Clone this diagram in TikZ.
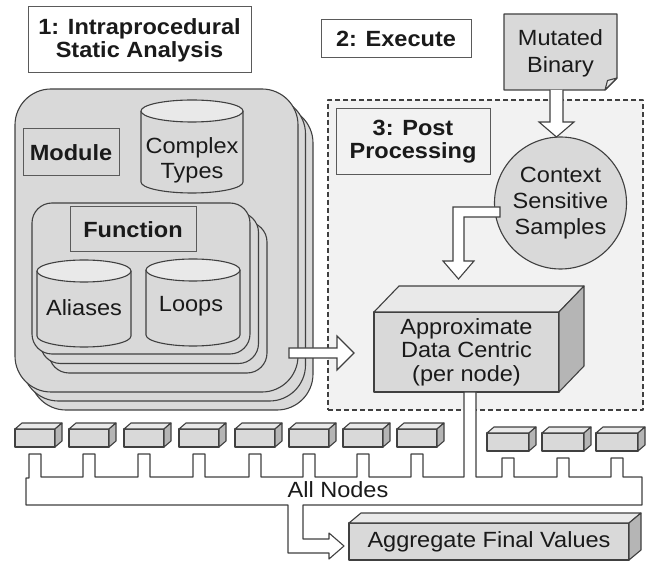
\documentclass[tikz,border=0pt]{standalone}
\usepackage{fontspec}
\setmainfont{Liberation Sans}[FakeStretch=1.07]
\usetikzlibrary{calc}
\definecolor{boxgray}{HTML}{D9D9D9}
\definecolor{topgray}{HTML}{E9E9E9}
\definecolor{sidegray}{HTML}{B5B5B5}
\definecolor{paleg}{HTML}{F2F2F2}
\definecolor{edgeg}{HTML}{404040}
\definecolor{lblg}{HTML}{5A5A5A}
\definecolor{txt}{HTML}{1A1A1A}
\newcommand\boxfaces[3]{%
  \draw[edge, fill=topgray] (#1.north west) -- ++(#2,#3) -- ($(#1.north east)+(#2,#3)$) -- (#1.north east) -- cycle;
  \draw[edge, fill=sidegray] (#1.north east) -- ($(#1.north east)+(#2,#3)$) -- ($(#1.south east)+(#2,#3)$) -- (#1.south east) -- cycle;}
\begin{document}
\begin{tikzpicture}[x=1pt,y=1pt,
  edge/.style={draw=edgeg, line width=1.1, line join=round},
  lbl/.style={font=\fontsize{22}{24}\selectfont, text=txt, align=center, inner sep=0},
  framebox/.style={draw=lblg, line width=1, inner sep=0, outer sep=0, align=center, text=txt,
     font=\fontsize{22}{23}\selectfont\bfseries},
  front/.style={edge, fill=boxgray, inner sep=0, outer sep=0, align=center, text=txt,
     font=\fontsize{22}{23.5}\selectfont},
  blockarrow/.style={draw=edgeg, fill=white, line width=1.1, line join=miter},
  stacklayer/.style={edge, fill=boxgray}
]
\useasboundingbox (0,0) rectangle (651,-561);

% region 3
\node[edge, fill=paleg, dash pattern=on 5pt off 3pt, minimum width=315, minimum height=310, inner sep=0, outer sep=0] (region) at (485.5,-255) {};

% titles
\node[framebox, fill=white, minimum width=223, minimum height=66] (t1) at (139.5,-40) {1: Intraprocedural\\Static Analysis};
\node[framebox, fill=white, minimum width=150, minimum height=38] (t2) at (396,-39) {2: Execute};
\node[framebox, fill=paleg, minimum width=154, minimum height=66] (t3) at (413,-142) {3: Post\\Processing};

% module stack
\draw[stacklayer, rounded corners=36] (30,-107) rectangle (313,-410);
\draw[stacklayer, rounded corners=36] (22.5,-98) rectangle (305.5,-401);
\node[stacklayer, rounded corners=36, minimum width=283, minimum height=303, inner sep=0, outer sep=0] (modstack) at (156.5,-240.5) {};
\node[framebox, fill=boxgray, minimum width=96, minimum height=47] (module) at (71,-152.5) {Module};

% complex types cylinder
\fill[boxgray] (141,-111) -- (141,-182) arc[start angle=180, end angle=360, x radius=51, y radius=11] -- (243,-111) -- cycle;
\draw[edge] (141,-111) -- (141,-182) arc[start angle=180, end angle=360, x radius=51, y radius=11] -- (243,-111);
\draw[edge, fill=topgray] (192,-111) ellipse[x radius=51, y radius=11];
\node[lbl, font=\fontsize{22}{25}\selectfont] (ctypes) at (192,-160) {Complex\\Types};

% function stack
\draw[stacklayer, rounded corners=20] (49,-222) rectangle (267,-373);
\draw[stacklayer, rounded corners=20] (40.5,-212.5) rectangle (258.5,-363.5);
\node[stacklayer, rounded corners=20, minimum width=218, minimum height=151, inner sep=0, outer sep=0] (funcstack) at (141,-278.5) {};
\node[framebox, fill=boxgray, minimum width=126, minimum height=45] (function) at (133,-229.5) {Function};

% aliases cylinder
\fill[boxgray] (37,-271) -- (37,-336) arc[start angle=180, end angle=360, x radius=47, y radius=11] -- (131,-271) -- cycle;
\draw[edge] (37,-271) -- (37,-336) arc[start angle=180, end angle=360, x radius=47, y radius=11] -- (131,-271);
\draw[edge, fill=topgray] (84,-271) ellipse[x radius=47, y radius=11];
\node[lbl] (aliases) at (84,-308) {Aliases};

% loops cylinder
\fill[boxgray] (146,-270) -- (146,-335) arc[start angle=180, end angle=360, x radius=47, y radius=11] -- (240,-270) -- cycle;
\draw[edge] (146,-270) -- (146,-335) arc[start angle=180, end angle=360, x radius=47, y radius=11] -- (240,-270);
\draw[edge, fill=topgray] (193,-270) ellipse[x radius=47, y radius=11];
\node[lbl] (loops) at (191,-306) {Loops};

% mutated binary
\draw[edge, fill=boxgray] (504,-14) -- (617,-14) -- (617,-78) -- (605,-90) -- (504,-90) -- cycle;
\draw[edge, fill=topgray] (617,-78) -- (605,-90) -- (607.5,-80.5) -- cycle;
\node[lbl, font=\fontsize{22}{27}\selectfont] (mutated) at (560.5,-53) {Mutated\\Binary};

% context circle
\node[circle, edge, fill=boxgray, minimum size=132, inner sep=0, outer sep=0, align=center, text=txt,
  font=\fontsize{22}{26}\selectfont] (ctx) at (560.5,-203) {Context\\Sensitive\\Samples};

% arrow mutated -> ctx
\draw[blockarrow] (550,-90) -- (550,-122) -- (539,-122) -- (556.5,-137) -- (574,-122) -- (563,-122) -- (563,-90);

% arrow ctx -> approx
\draw[blockarrow] (500,-207) -- (453,-207) -- (453,-261) -- (443,-261) -- (458.5,-279) -- (474,-261) -- (464,-261) -- (464,-217) -- (500,-217) -- cycle;

% approx box
\node[front, minimum width=185, minimum height=80] (approx) at (466.5,-352) {Approximate\\Data Centric\\(per node)};
\boxfaces{approx}{25}{26}

% arrow module -> approx
\draw[blockarrow] (289,-348) -- (337,-348) -- (337,-336) -- (354,-353) -- (337,-370) -- (337,-358) -- (289,-358) -- cycle;

% small node boxes
\foreach \i/\cx in {1/35,2/89,3/144,4/199,5/255,6/309,7/363,8/417} {
  \node[front, minimum width=40, minimum height=18] (s\i) at (\cx,-438) {};
  \boxfaces{s\i}{7}{6}
}
\foreach \i/\cx in {9/508,10/563,11/617} {
  \node[front, minimum width=42, minimum height=18] (s\i) at (\cx,-442) {};
  \boxfaces{s\i}{7}{6}
}

% comb / all nodes collector
\draw[blockarrow, line join=round] (26,-505) -- (288,-505) -- (288,-553) -- (329,-553) -- (329,-559) -- (344,-546) -- (329,-533) -- (329,-539) -- (303,-539) -- (303,-505) -- (642,-505) -- (642,-477)
  -- (623,-477) -- (623,-458) -- (611,-458) -- (611,-477)
  -- (569,-477) -- (569,-458) -- (557,-458) -- (557,-477)
  -- (514,-477) -- (514,-458) -- (502,-458) -- (502,-477)
  -- (476,-477) -- (476,-392) -- (464,-392) -- (464,-477)
  -- (423,-477) -- (423,-454) -- (411,-454) -- (411,-477)
  -- (369,-477) -- (369,-454) -- (357,-454) -- (357,-477)
  -- (315,-477) -- (315,-454) -- (303,-454) -- (303,-477)
  -- (261,-477) -- (261,-454) -- (249,-454) -- (249,-477)
  -- (205,-477) -- (205,-454) -- (193,-454) -- (193,-477)
  -- (150,-477) -- (150,-454) -- (138,-454) -- (138,-477)
  -- (95,-477) -- (95,-454) -- (83,-454) -- (83,-477)
  -- (41,-477) -- (41,-454) -- (29,-454) -- (29,-478) -- (26,-478) -- cycle;
\node[lbl] (all) at (338,-490) {All Nodes};

% aggregate
\node[front, minimum width=280, minimum height=37] (agg) at (489,-541.5) {Aggregate Final Values};
\boxfaces{agg}{12}{10}
\end{tikzpicture}
\end{document}
